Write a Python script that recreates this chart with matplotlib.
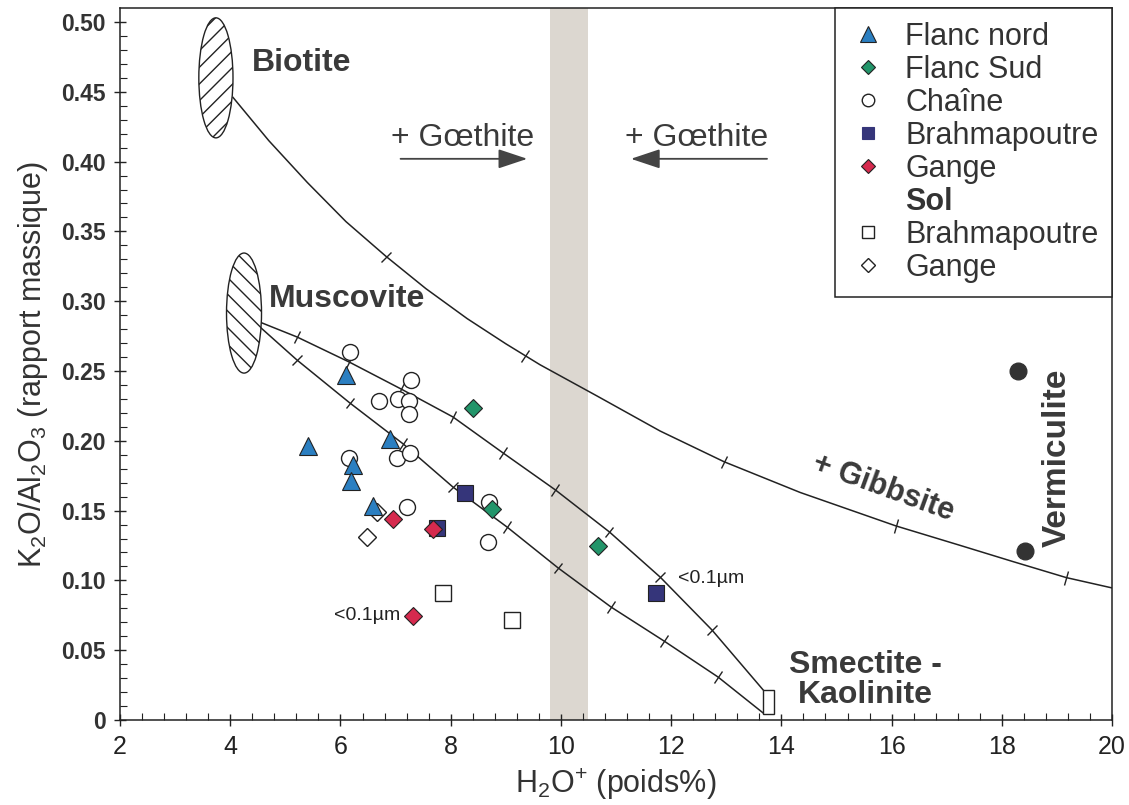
import numpy as np
import matplotlib
matplotlib.use('Agg')
import matplotlib.pyplot as plt
from matplotlib.patches import Ellipse, Rectangle
from matplotlib.lines import Line2D
from matplotlib.markers import MarkerStyle
from matplotlib.transforms import Affine2D

plt.rcParams['font.family'] = ['Liberation Sans', 'DejaVu Sans']
plt.rcParams['mathtext.fontset'] = 'custom'
plt.rcParams['mathtext.rm'] = 'Liberation Sans'
plt.rcParams['mathtext.it'] = 'Liberation Sans:italic'
plt.rcParams['mathtext.bf'] = 'Liberation Sans:bold'
plt.rcParams['mathtext.default'] = 'regular'
plt.rcParams['hatch.linewidth'] = 1.0

# --- sample data (H2O+ wt%, K2O/Al2O3) ---
flanc_nord_x = [5.41, 6.10, 6.90, 6.23, 6.19, 6.59]
flanc_nord_y = [0.196, 0.247, 0.201, 0.183, 0.171, 0.153]
flanc_sud_x = [8.41, 8.75, 10.68]
flanc_sud_y = [0.2235, 0.151, 0.1246]
chaine_x = [6.17, 7.28, 6.70, 7.05, 7.24, 7.24, 6.16, 7.03, 7.26, 7.21, 8.70, 8.68]
chaine_y = [0.2636, 0.2436, 0.2285, 0.230, 0.2285, 0.219, 0.188, 0.188, 0.191, 0.1526, 0.156, 0.1275]
brahma_x = [8.26, 7.75, 11.73]
brahma_y = [0.1626, 0.1375, 0.091]
gange_x = [6.95, 7.68, 7.32]
gange_y = [0.144, 0.1368, 0.0745]
sol_brahma_x = [7.86, 9.11]
sol_brahma_y = [0.091, 0.0716]
sol_gange_x = [6.48, 6.66]
sol_gange_y = [0.131, 0.149]
vermic_x = [18.30, 18.42]
vermic_y = [0.250, 0.121]

# --- mixing curves ---
biot_x = [4.05, 4.70, 5.40, 6.10, 6.83, 7.55, 8.30, 9.00, 9.62, 10.66, 11.80, 12.96,
          14.34, 16.08, 17.25, 18.20, 19.17, 20.0]
biot_y = [0.446, 0.415, 0.385, 0.357, 0.332, 0.309, 0.2875, 0.2695, 0.2545, 0.232,
          0.207, 0.185, 0.163, 0.139, 0.125, 0.1135, 0.102, 0.0946]
biot_tick_x = [6.83, 9.35, 12.96, 16.08, 19.17]
biot_tick_y = [0.332, 0.261, 0.185, 0.139, 0.102]

musc_up_x = [4.54, 5.21, 6.16, 7.10, 8.04, 8.95, 9.90, 10.88, 11.80, 12.74, 13.67]
musc_up_y = [0.285, 0.2744, 0.2564, 0.2371, 0.2171, 0.1913, 0.1648, 0.1347, 0.1024, 0.0645, 0.0215]
musc_up_ticks = [1, 2, 3, 4, 5, 6, 7, 8, 9]

musc_lo_x = [4.54, 5.21, 6.17, 7.14, 8.04, 9.02, 9.95, 10.91, 11.87, 12.85, 13.67]
musc_lo_y = [0.2815, 0.2579, 0.2271, 0.1977, 0.1669, 0.1383, 0.1089, 0.0809, 0.0566, 0.0308, 0.005]
musc_lo_ticks = [1, 2, 3, 4, 5, 6, 7, 8, 9]

xticks = [2, 4, 6, 8, 10, 12, 14, 16, 18, 20]
yticks = [0, 0.05, 0.10, 0.15, 0.20, 0.25, 0.30, 0.35, 0.40, 0.45, 0.50]
ytick_labels = ['0', '0.05', '0.10', '0.15', '0.20', '0.25', '0.30', '0.35', '0.40', '0.45', '0.50']

c_blue = '#2b7fc1'
c_green = '#22956a'
c_navy = '#35357a'
c_red = '#d62a4e'
c_text = '#3a3a3a'

fig = plt.figure(figsize=(11.29, 8.05), dpi=100)
ax = fig.add_axes([0.1063, 0.1056, 0.8787, 0.8844])
ax.set_xlim(2, 20)
ax.set_ylim(0, 0.51)

ax.axvspan(9.8, 10.5, color='#dcd7d0', zorder=0, lw=0)

# curves
ax.plot(biot_x, biot_y, color='#222', lw=1.1, zorder=2)
ax.plot(musc_up_x, musc_up_y, color='#222', lw=1.1, zorder=2)
ax.plot(musc_lo_x, musc_lo_y, color='#222', lw=1.1, zorder=2)


def curve_ticks(cx, cy, tx, ty):
    pts = ax.transData.transform(np.column_stack([cx, cy]))
    for x, y in zip(tx, ty):
        i = int(np.clip(np.searchsorted(cx, x), 1, len(cx) - 1))
        d = pts[i] - pts[i - 1]
        ang = np.degrees(np.arctan2(d[1], d[0]))
        m = MarkerStyle('|', transform=Affine2D().rotate_deg(ang))
        ax.plot(x, y, marker=m, ms=10, mew=1.0, color='#222', zorder=2)


curve_ticks(biot_x, biot_y, biot_tick_x, biot_tick_y)
curve_ticks(musc_up_x, musc_up_y, [musc_up_x[i] for i in musc_up_ticks], [musc_up_y[i] for i in musc_up_ticks])
curve_ticks(musc_lo_x, musc_lo_y, [musc_lo_x[i] for i in musc_lo_ticks], [musc_lo_y[i] for i in musc_lo_ticks])

# end members
ax.add_patch(Ellipse((3.74, 0.460), 0.62, 0.086, facecolor='white', edgecolor='#222',
                     hatch='//', lw=1.0, zorder=3))
ax.add_patch(Ellipse((4.25, 0.2915), 0.635, 0.086, facecolor='white', edgecolor='#222',
                     hatch='\\\\', lw=1.0, zorder=3))
ax.add_patch(Rectangle((13.67, 0.0043), 0.2, 0.0172, facecolor='white', edgecolor='#222',
                       lw=1.0, zorder=3))

# samples
ec = '#222'
ax.plot(chaine_x, chaine_y, 'o', ms=11.5, mfc='white', mec=ec, mew=1.0, ls='none', zorder=4)
ax.plot(sol_gange_x, sol_gange_y, 'D', ms=9, mfc='white', mec=ec, mew=1.0, ls='none', zorder=4)
ax.plot(sol_brahma_x, sol_brahma_y, 's', ms=11, mfc='white', mec=ec, mew=1.0, ls='none', zorder=4)
ax.plot(brahma_x, brahma_y, 's', ms=11, mfc=c_navy, mec=ec, mew=0.8, ls='none', zorder=5)
ax.plot(flanc_nord_x, flanc_nord_y, '^', ms=13, mfc=c_blue, mec=ec, mew=0.8, ls='none', zorder=5)
ax.plot(flanc_sud_x, flanc_sud_y, 'D', ms=9, mfc=c_green, mec=ec, mew=0.8, ls='none', zorder=6)
ax.plot(gange_x, gange_y, 'D', ms=9, mfc=c_red, mec=ec, mew=0.8, ls='none', zorder=6)
ax.plot(vermic_x, vermic_y, 'o', ms=12, mfc='#333', mec='#333', ls='none', zorder=5)

# annotations
ax.text(5.30, 0.4706, 'Biotite', fontsize=23, fontweight='bold', color=c_text,
        ha='center', va='center')
ax.text(6.12, 0.3016, 'Muscovite', fontsize=23, fontweight='bold', color=c_text,
        ha='center', va='center')
ax.text(15.52, 0.0287, 'Smectite -\nKaolinite', fontsize=23, fontweight='bold', color=c_text,
        ha='center', va='center', linespacing=1.0)
ax.text(15.85, 0.166, '+ Gibbsite', fontsize=22, fontweight='bold', color=c_text,
        ha='center', va='center', rotation=-20, rotation_mode='anchor')
ax.text(19.0, 0.188, 'Vermiculite', fontsize=24, fontweight='bold', color=c_text,
        ha='center', va='center', rotation=90)
ax.text(8.21, 0.417, '+ Gœthite', fontsize=23, color=c_text, ha='center', va='center')
ax.text(12.47, 0.417, '+ Gœthite', fontsize=23, color=c_text, ha='center', va='center')
ax.annotate('', xy=(9.44, 0.402), xytext=(7.04, 0.402),
            arrowprops=dict(arrowstyle='-|>,head_length=1.8,head_width=0.6', color='#444', lw=1.3))
ax.annotate('', xy=(11.22, 0.402), xytext=(13.79, 0.402),
            arrowprops=dict(arrowstyle='-|>,head_length=1.8,head_width=0.6', color='#444', lw=1.3))
ax.text(7.08, 0.0745, '<0.1µm', fontsize=14, color='#222', ha='right', va='center')
ax.text(12.13, 0.1017, '<0.1µm', fontsize=14, color='#222', ha='left', va='center')

# axes styling
ax.set_xticks(xticks)
ax.set_xticklabels([str(v) for v in xticks])
ax.set_yticks(yticks)
ax.set_yticklabels(ytick_labels)
ax.set_xticks(np.arange(2, 20.01, 0.4), minor=True)
ax.set_yticks(np.arange(0, 0.501, 0.01), minor=True)
ax.tick_params(which='major', direction='inout', length=9, width=1.0, colors='#222')
ax.tick_params(which='minor', direction='in', length=5, width=0.8, colors='#222')
ax.tick_params(axis='x', labelsize=18, pad=6)
ax.tick_params(axis='y', labelsize=16.5, pad=6)
for lab in ax.get_yticklabels():
    lab.set_fontweight('bold')
    lab.set_color('#333')
for sp in ax.spines.values():
    sp.set_linewidth(1.1)
    sp.set_color('#222')

ax.set_xlabel('H$_2$O$^{+}$ (poids%)', fontsize=22, color='#333', labelpad=6)
ax.set_ylabel('K$_2$O/Al$_2$O$_3$ (rapport massique)', fontsize=22, color='#333', labelpad=8)

# legend
handles = [
    Line2D([], [], ls='none', marker='^', ms=12, mfc=c_blue, mec=ec, mew=0.8),
    Line2D([], [], ls='none', marker='D', ms=7.5, mfc=c_green, mec=ec, mew=0.8),
    Line2D([], [], ls='none', marker='o', ms=9, mfc='white', mec=ec, mew=1.0),
    Line2D([], [], ls='none', marker='s', ms=9, mfc=c_navy, mec=c_navy, mew=0.8),
    Line2D([], [], ls='none', marker='D', ms=7.5, mfc=c_red, mec=ec, mew=0.8),
    Line2D([], [], ls='none'),
    Line2D([], [], ls='none', marker='s', ms=9, mfc='white', mec=ec, mew=1.0),
    Line2D([], [], ls='none', marker='D', ms=7.5, mfc='white', mec=ec, mew=1.0),
]
labels = ['Flanc nord', 'Flanc Sud', 'Chaîne', 'Brahmapoutre', 'Gange', 'Sol',
          'Brahmapoutre', 'Gange']
leg = ax.legend(handles, labels, loc='upper right', borderaxespad=0, fontsize=22,
                frameon=True, fancybox=False, framealpha=1, edgecolor='#222',
                borderpad=0.45, labelspacing=0.1, handlelength=1.3, handletextpad=0.55)
leg.get_frame().set_linewidth(1.1)
leg.set_zorder(10)
for t in leg.get_texts():
    t.set_color('#333')
leg.get_texts()[5].set_fontweight('bold')

fig.savefig('out.png', dpi=100)
